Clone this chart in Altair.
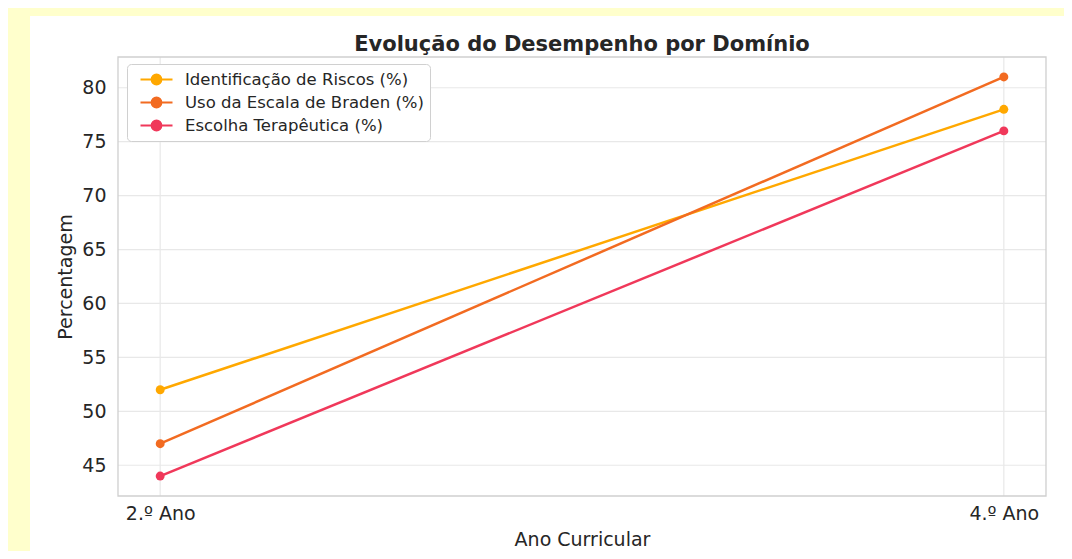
import altair as alt
import pandas as pd

years = ["2.º Ano", "4.º Ano"]
series = ["Identificação de Riscos (%)", "Uso da Escala de Braden (%)", "Escolha Terapêutica (%)"]
ident = [52, 78]
braden = [47, 81]
terap = [44, 76]
colors = ["#FFA800", "#F26B21", "#F0385A"]
y_ticks = [45, 50, 55, 60, 65, 70, 75, 80]

rows = []
for name, vals in zip(series, [ident, braden, terap]):
    for yr, v in zip(years, vals):
        rows.append({"ano": yr, "serie": name, "valor": v})
df = pd.DataFrame(rows)

FONT = "DejaVu Sans"
GRID = "#E8E8E8"

color = alt.Color(
    "serie:N",
    scale=alt.Scale(domain=series, range=colors),
    legend=alt.Legend(
        title=None,
        orient="none",
        legendX=9,
        legendY=7,
        symbolType="M-2,0L2,0M0.6,0A0.6,0.6,0,1,1,-0.6,0A0.6,0.6,0,1,1,0.6,0Z",
        symbolSize=256,
        symbolStrokeWidth=2.2,
        symbolOffset=14,
        labelFontSize=16.5,
        labelFont=FONT,
        labelColor="#262626",
        labelOffset=19,
        labelLimit=500,
        rowPadding=4,
        padding=6,
        strokeColor="#D0D0D0",
        fillColor="white",
        cornerRadius=4,
    ),
)

xscale = alt.Scale(type="point", padding=0.05, domain=years)
yscale = alt.Scale(domain=[42.15, 82.85], nice=False, zero=False)

xaxis = alt.Axis(title="Ano Curricular", labelAngle=0, grid=False, ticks=False, domain=False,
                 labelPadding=8, titlePadding=7, zindex=1)
yaxis = alt.Axis(title="Percentagem", values=y_ticks, grid=False, ticks=False, domain=False,
                 labelPadding=12, titlePadding=6, zindex=1)

x = alt.X("ano:N", sort=years, scale=xscale, axis=xaxis)
y = alt.Y("valor:Q", scale=yscale, axis=yaxis)

panel = alt.Chart(pd.DataFrame({"a": [0]})).mark_rect(color="white").encode(
    x=alt.value(-88), x2=alt.value(960), y=alt.value(-41), y2=alt.value(520)
)

ygrid = alt.Chart(pd.DataFrame({"valor": y_ticks})).mark_rule(color=GRID, strokeWidth=1.2).encode(
    y=y
)
xgrid = alt.Chart(pd.DataFrame({"ano": years})).mark_rule(color=GRID, strokeWidth=1.2).encode(
    x=x
)

frame = alt.Chart(pd.DataFrame({"a": [0]})).mark_rect(fill=None, stroke="#CFCFCF", strokeWidth=1.3).encode(
    x=alt.value(0), x2=alt.value(928), y=alt.value(0), y2=alt.value(439)
)

lines = alt.Chart(df).mark_line(strokeWidth=2.5).encode(x=x, y=y, color=color)
points = alt.Chart(df).mark_point(filled=True, size=80, opacity=1).encode(x=x, y=y, color=color)

chart = alt.layer(panel, ygrid, xgrid, frame, lines, points).properties(
    width=928,
    height=439,
    autosize=alt.AutoSizeParams(type="none"),
    padding={"left": 110, "top": 49, "right": 18, "bottom": 55},
    background="#FFFFCC",
    title=alt.Title("Evolução do Desempenho por Domínio", fontSize=21, font=FONT, fontWeight="bold",
                    color="#262626", offset=-39, frame="group"),
).configure_view(
    stroke=None, fill="white"
).configure_axis(
    labelFont=FONT, titleFont=FONT, labelFontSize=19, titleFontSize=19,
    labelColor="#262626", titleColor="#262626", titleFontWeight="normal",
)

chart.save("out.html", embed_options={"renderer": "svg", "actions": False})
